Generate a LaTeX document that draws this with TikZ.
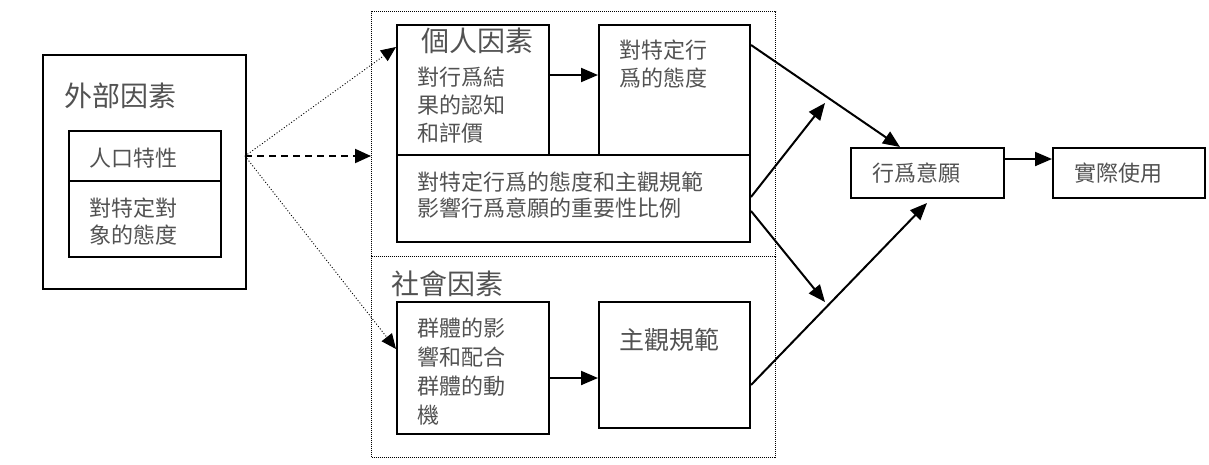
\documentclass[tikz,border=0pt]{standalone}
\usepackage{fontspec}
\newfontfamily\cjk{Noto Sans CJK TC}
\usetikzlibrary{arrows.meta}
\tikzset{
  box/.style={draw=black, line width=2pt, anchor=north west, inner sep=0pt, fill=none},
  frame/.style={draw=black, line width=1.1pt, dash pattern=on 1pt off 1pt, anchor=north west, inner sep=0pt},
  lbl/.style={anchor=base west, inner sep=0pt, align=left, text=black!68, font=\cjk\fontsize{22}{28}\selectfont},
  ttl/.style={anchor=base west, inner sep=0pt, text=black!68, font=\cjk\fontsize{28}{32}\selectfont},
  arr/.style={line width=2pt, -{Triangle[length=17pt,width=14pt]}},
  dotarr/.style={line width=0.9pt, dash pattern=on 1pt off 2pt, -{Triangle[length=15pt,width=13pt]}},
  dasharr/.style={line width=2pt, dash pattern=on 7pt off 5pt, -{Triangle[length=16pt,width=14pt]}},
}
\begin{document}
\begin{tikzpicture}[x=1pt,y=-1pt]
\useasboundingbox (0,0) rectangle (1209,464);
% external factors
\node[box, minimum width=203pt, minimum height=234pt] (ext) at (42,54) {};
\node[ttl] (extT) at (64,106) {外部因素};
\node[box, minimum width=152pt, minimum height=50pt] (ip) at (68,130) {};
\node[box, minimum width=152pt, minimum height=76pt] (ia) at (68,180) {};
\node[lbl] (ipT) at (89,166) {人口特性};
\node[lbl, font=\cjk\fontsize{22}{27}\selectfont] (iaT) at (89,243) {對特定對\\象的態度};
% frames
\node[frame, minimum width=404pt, minimum height=245pt] (pf) at (371,11) {};
\node[frame, minimum width=404pt, minimum height=201pt] (sf) at (371,256) {};
% personal
\node[box, minimum width=152pt, minimum height=130pt] (p1) at (396,24) {};
\node[box, minimum width=151pt, minimum height=130pt] (p2) at (598,24) {};
\node[box, minimum width=353pt, minimum height=87pt] (p3) at (396,154) {};
\node[ttl] (pT) at (421,51) {個人因素};
\node[lbl] (p1T) at (417,141) {對行爲結\\果的認知\\和評價};
\node[lbl] (p2T) at (619,86) {對特定行\\爲的態度};
\node[lbl, font=\cjk\fontsize{22}{26}\selectfont] (p3T) at (417,216) {對特定行爲的態度和主觀規範\\影響行爲意願的重要性比例};
% social
\node[ttl] (sT) at (391,294) {社會因素};
\node[box, minimum width=152pt, minimum height=132pt] (s1) at (396,301) {};
\node[box, minimum width=151pt, minimum height=126pt] (s2) at (598,301) {};
\node[lbl, font=\cjk\fontsize{22}{29}\selectfont] (s1T) at (417,423) {群體的影\\響和配合\\群體的動\\機};
\node[lbl, font=\cjk\fontsize{25}{29}\selectfont] (s2T) at (619,349) {主觀規範};
% right
\node[box, minimum width=153pt, minimum height=50pt] (int) at (850,147) {};
\node[box, minimum width=152pt, minimum height=50pt] (use) at (1052,147) {};
\node[lbl] (intT) at (872,181) {行爲意願};
\node[lbl] (useT) at (1074,181) {實際使用};
% coordinates
\coordinate (eo) at (245,156);
\coordinate (pin) at (396,47);
\coordinate (sin) at (396,349);
\coordinate (r2e) at (825,103);
\coordinate (r3e) at (825,302);
% connectors
\draw[dasharr] (eo) -- (eo -| pf.west);
\draw[dotarr] (eo) -- (pin);
\draw[dotarr] (eo) -- (sin);
\draw[arr] ([yshift=-51pt]p1.north east) -- ([yshift=-51pt]p2.north west);
\draw[arr] ([yshift=-77pt]s1.north east) -- ([yshift=-77pt]s2.north west);
\draw[arr] ([yshift=-21pt]p2.north east) -- ([xshift=50pt]int.north west);
\draw[arr] ([yshift=-43pt]p3.north east) -- (r2e);
\draw[arr] ([yshift=-57pt]p3.north east) -- (r3e);
\draw[arr] ([yshift=-84pt]s2.north east) -- ([xshift=77pt,yshift=-4pt]int.south west);
\draw[arr] ([yshift=-12pt]int.north east) -- ([yshift=-12pt]use.north west);
\end{tikzpicture}
\end{document}
